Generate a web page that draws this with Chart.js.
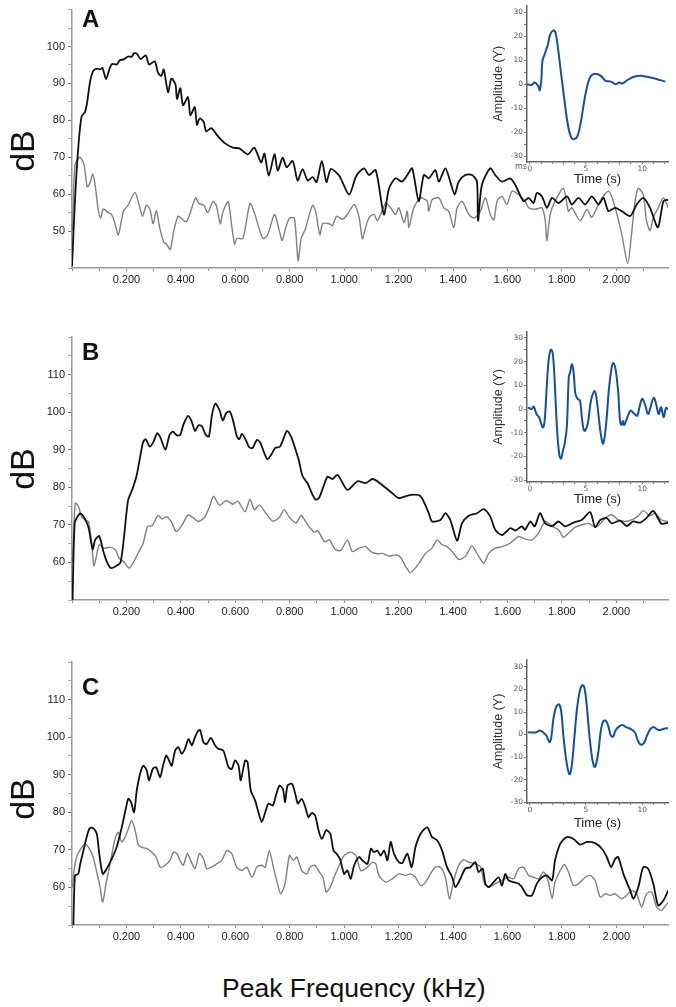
<!DOCTYPE html>
<html lang="en">
<head>
<meta charset="UTF-8">
<title>Peak frequency spectra</title>
<script src="https://cdn.jsdelivr.net/npm/chart.js"></script>
<style>
  body { margin: 0; background: #fff; }
  #wrap { position: relative; width: 676px; height: 1007px; overflow: hidden; font-family: 'Liberation Sans', Arial, sans-serif; }
  canvas { position: absolute; }
  .lbl { position: absolute; white-space: nowrap; color: #111; }
  .db { font-size: 34px; width: 60px; height: 40px; line-height: 40px; text-align: center; transform: rotate(-90deg); }
  .letter { font-size: 24px; line-height: 24px; font-weight: bold; }
</style>
</head>
<body>
<div id="wrap">
  <canvas id="mainA" width="676" height="300" style="left:0;top:0"></canvas>
  <canvas id="mainB" width="676" height="310" style="left:0;top:320px"></canvas>
  <canvas id="mainC" width="676" height="310" style="left:0;top:645px"></canvas>
  <canvas id="waveA" width="196" height="190" style="left:480px;top:0"></canvas>
  <canvas id="waveB" width="196" height="184" style="left:480px;top:326px"></canvas>
  <canvas id="waveC" width="196" height="177" style="left:480px;top:654px"></canvas>

  <div class="lbl db" style="left:-8px;top:131px">dB</div>
  <div class="lbl db" style="left:-8px;top:449px">dB</div>
  <div class="lbl db" style="left:-8px;top:779px">dB</div>
  <div class="lbl letter" style="left:82px;top:7px">A</div>
  <div class="lbl letter" style="left:82px;top:340px">B</div>
  <div class="lbl letter" style="left:82px;top:675px">C</div>
  <div class="lbl" style="left:515px;top:162px;font:8px 'DejaVu Sans';color:#555">ms</div>
  <div class="lbl" style="left:222px;top:975px;font-size:26.5px;line-height:26.5px">Peak Frequency (kHz)</div>
</div>
<script>
// [kHz, dB] pairs
const blackA = [[0,40.5],[0.011,58.4],[0.023,72.6],[0.035,81],[0.048,82.3],[0.056,85],[0.066,90.3],[0.078,93.4],[0.093,94],[0.103,93.8],[0.112,94.2],[0.125,91.2],[0.139,94.2],[0.148,95.3],[0.164,95.1],[0.176,96.3],[0.190,96.5],[0.206,97.3],[0.219,97.2],[0.228,98.2],[0.239,98],[0.252,96.6],[0.271,97.6],[0.283,95.1],[0.304,96],[0.316,92.9],[0.328,92],[0.337,93.8],[0.353,87.6],[0.365,91.3],[0.380,89.8],[0.386,85.8],[0.398,88.7],[0.408,84.1],[0.426,86.3],[0.435,81.4],[0.451,83.6],[0.459,78.8],[0.469,80.5],[0.484,79.6],[0.493,77],[0.512,77.9],[0.536,75.7],[0.560,73.9],[0.591,72.6],[0.615,72.4],[0.646,70.8],[0.670,72.6],[0.695,68.6],[0.707,71],[0.723,65],[0.744,70.8],[0.756,66.4],[0.774,69.9],[0.789,67.3],[0.811,69],[0.829,63.7],[0.847,66.8],[0.866,63.7],[0.884,64.6],[0.899,63.3],[0.918,69],[0.935,63.3],[0.951,66.8],[0.982,65],[1.018,59.9],[1.045,65],[1.073,67],[1.091,65.2],[1.116,66.5],[1.146,54.5],[1.165,61.6],[1.189,64.3],[1.213,63.4],[1.232,65.2],[1.250,67],[1.274,58.1],[1.293,65.2],[1.311,64.3],[1.335,66.5],[1.348,63.4],[1.372,67],[1.390,63.4],[1.406,59.9],[1.421,63.4],[1.445,65.2],[1.470,65.2],[1.488,63.4],[1.492,52.8],[1.506,62.5],[1.537,67],[1.555,65.2],[1.580,63.4],[1.610,64.3],[1.629,62.5],[1.659,58.1],[1.678,59],[1.696,57.6],[1.708,60.3],[1.727,59.4],[1.745,56.3],[1.764,59],[1.788,57.6],[1.819,59.4],[1.837,57.2],[1.861,59],[1.886,57.2],[1.910,59.4],[1.935,57.2],[1.953,59],[1.971,55.4],[1.996,56.3],[2.020,55.4],[2.051,54.1],[2.075,57.2],[2.099,59],[2.124,56.3],[2.153,51],[2.173,58.1],[2.190,58.5]];
const greyA = [[0.002,50],[0.011,68],[0.029,70],[0.044,68],[0.056,62],[0.066,63],[0.076,65.5],[0.084,63],[0.096,56],[0.105,53.5],[0.115,56],[0.133,55],[0.145,54.5],[0.158,52],[0.170,49],[0.182,53],[0.190,55.5],[0.206,57],[0.231,60.5],[0.247,57],[0.259,54],[0.273,57],[0.286,56],[0.298,52],[0.310,55.5],[0.322,51],[0.337,47],[0.347,46.5],[0.361,45],[0.374,50],[0.390,54],[0.408,53],[0.420,52.5],[0.430,54],[0.454,59],[0.466,57.5],[0.484,57],[0.499,55],[0.518,58],[0.530,57],[0.545,52],[0.554,55],[0.573,58],[0.579,56],[0.597,46.5],[0.606,48],[0.628,48],[0.654,57.5],[0.670,55],[0.701,48],[0.719,49],[0.744,54.5],[0.762,50],[0.772,47.5],[0.786,51],[0.799,53.5],[0.817,53.5],[0.831,42],[0.842,48],[0.857,50.5],[0.884,57],[0.896,55],[0.911,49],[0.921,52],[0.945,52],[0.957,51.5],[0.972,54],[0.994,53.2],[1.012,54.5],[1.037,57.2],[1.055,53.7],[1.067,47.9],[1.079,51],[1.092,53.7],[1.110,54.5],[1.122,52.8],[1.134,54.5],[1.153,57.6],[1.171,56.3],[1.189,54.5],[1.201,56.3],[1.220,52.3],[1.232,55.4],[1.238,51],[1.256,56.3],[1.281,59],[1.305,58.1],[1.311,55.4],[1.323,58.5],[1.348,59],[1.366,56.3],[1.384,55.4],[1.403,51],[1.415,56.3],[1.433,58.1],[1.458,54.5],[1.470,53.7],[1.482,53.7],[1.501,55.4],[1.519,59],[1.537,54.5],[1.550,53],[1.562,58.1],[1.580,59.4],[1.598,57.2],[1.617,60.8],[1.641,59.9],[1.665,58.1],[1.678,56.3],[1.702,55.9],[1.727,56.3],[1.739,52.8],[1.745,47.4],[1.757,54.5],[1.775,58.1],[1.806,61.6],[1.824,55.4],[1.837,56.3],[1.867,52.8],[1.892,55.9],[1.910,53.7],[1.940,58.1],[1.971,60.8],[1.989,58.1],[2.020,49.2],[2.042,41.2],[2.056,49.2],[2.069,58.1],[2.081,61.6],[2.099,59.9],[2.111,52.8],[2.124,50.1],[2.136,53.7],[2.154,56.3],[2.173,59],[2.191,56.3]];

const blackB = [[0.002,50],[0.010,70.5],[0.023,72.5],[0.032,73],[0.048,71.5],[0.061,69.2],[0.076,63.5],[0.085,66],[0.100,67],[0.115,63],[0.129,60],[0.143,58.5],[0.161,59],[0.178,60],[0.190,66],[0.206,76.5],[0.222,79.5],[0.237,83],[0.249,87.5],[0.261,92],[0.271,92.8],[0.286,90.8],[0.300,92.2],[0.313,94.4],[0.325,93.2],[0.343,90],[0.359,94],[0.371,94.8],[0.386,93.8],[0.398,94],[0.410,96.8],[0.427,99],[0.440,97.5],[0.452,95],[0.465,96.5],[0.477,96.3],[0.491,94],[0.503,93.5],[0.515,99.5],[0.527,102.3],[0.542,100.5],[0.554,97.8],[0.567,99.8],[0.579,100.2],[0.591,98],[0.606,93.5],[0.615,92.8],[0.624,94.2],[0.636,93],[0.652,90.6],[0.664,90.5],[0.679,92.6],[0.691,92],[0.707,89],[0.719,87.5],[0.733,88.8],[0.747,90.5],[0.764,90.8],[0.780,93.5],[0.790,95],[0.805,93.5],[0.818,90.8],[0.833,87.3],[0.847,83],[0.866,81],[0.884,78],[0.896,76.7],[0.908,77.2],[0.923,80],[0.939,82.8],[0.957,82.2],[0.976,83.3],[1.012,79.3],[1.049,81.6],[1.079,81.1],[1.104,82.2],[1.128,81.3],[1.177,78.4],[1.201,77.1],[1.244,78],[1.281,77.6],[1.311,73.1],[1.323,70.9],[1.354,71.3],[1.372,73.1],[1.390,71.3],[1.415,65.8],[1.433,70.4],[1.458,72.4],[1.488,73.1],[1.513,74.2],[1.537,72.2],[1.555,68.7],[1.580,67.3],[1.610,69.1],[1.629,68.5],[1.653,69.6],[1.665,68.7],[1.684,70.9],[1.700,69.6],[1.720,73.1],[1.739,70.4],[1.764,69.7],[1.788,70.9],[1.812,69.6],[1.843,70.6],[1.873,71.3],[1.904,73.4],[1.922,69.4],[1.941,71.3],[1.965,71.8],[1.983,70.4],[2.014,71.1],[2.038,69.7],[2.062,70.9],[2.087,70.6],[2.111,71.8],[2.136,73.7],[2.166,70.3],[2.191,70.6]];
const greyB = [[0.002,60],[0.012,75.8],[0.024,74.9],[0.035,72.2],[0.051,71.2],[0.061,70.8],[0.073,64.5],[0.081,59],[0.100,64.7],[0.117,63.8],[0.139,64],[0.158,63.5],[0.174,61],[0.190,60.2],[0.210,58.5],[0.225,60],[0.243,62.5],[0.261,65],[0.278,69.6],[0.295,69.8],[0.316,72.5],[0.331,71.6],[0.347,72.2],[0.365,70.8],[0.383,68.2],[0.405,70],[0.426,72.6],[0.447,71.8],[0.465,70.9],[0.487,72],[0.506,75],[0.520,77.6],[0.542,75.2],[0.567,76.5],[0.591,75.5],[0.609,76.3],[0.636,73.5],[0.654,76.8],[0.670,74],[0.689,75.3],[0.713,73],[0.738,71],[0.762,72],[0.780,74],[0.799,72],[0.823,70.5],[0.842,72.5],[0.866,70],[0.891,68],[0.903,68.5],[0.928,65.5],[0.946,66],[0.966,63.5],[0.988,63.2],[1.012,66],[1.030,62.9],[1.055,63.8],[1.079,64.2],[1.098,62.9],[1.122,62.3],[1.140,62.4],[1.165,61.7],[1.189,62],[1.207,61.4],[1.226,58.9],[1.244,57.3],[1.275,59.8],[1.299,62.4],[1.323,63.8],[1.342,66],[1.360,64.7],[1.378,64.2],[1.403,62.4],[1.421,60.8],[1.445,61.6],[1.470,64.4],[1.488,62.4],[1.513,59.8],[1.531,62.4],[1.555,63.8],[1.580,64.2],[1.610,65.1],[1.641,66.9],[1.665,66.2],[1.690,66],[1.714,67.8],[1.739,70.9],[1.764,69.6],[1.788,68.7],[1.806,66.7],[1.831,68.2],[1.849,69.4],[1.873,70],[1.898,70.4],[1.922,69.4],[1.941,70.3],[1.959,71.8],[1.983,72.7],[2.007,71.3],[2.032,70.9],[2.056,71.3],[2.081,72.4],[2.099,73.8],[2.124,72.4],[2.142,73.1],[2.166,71.3],[2.191,70.9]];

const blackC = [[0.005,50],[0.011,63.2],[0.023,63.6],[0.029,65.8],[0.042,69.8],[0.054,73.4],[0.064,75.6],[0.076,75.9],[0.091,74.3],[0.100,69],[0.113,63.6],[0.127,64.9],[0.146,67.6],[0.164,70.7],[0.183,76],[0.199,81.4],[0.207,83.6],[0.217,82.7],[0.228,80],[0.238,85.8],[0.250,90.2],[0.262,92.4],[0.275,91.1],[0.283,88.5],[0.297,91.6],[0.309,92],[0.324,89.3],[0.333,92],[0.346,95.1],[0.354,94.2],[0.366,92.4],[0.379,96.4],[0.391,97.3],[0.403,95.6],[0.415,96.9],[0.428,99.5],[0.440,97.8],[0.452,100],[0.464,101.7],[0.471,101.9],[0.483,98.6],[0.495,98.2],[0.510,99.8],[0.526,97.8],[0.538,96.9],[0.556,96.4],[0.575,92],[0.587,91.5],[0.599,93.8],[0.612,92.4],[0.620,88.5],[0.636,93.8],[0.645,93.4],[0.657,85.8],[0.673,83.1],[0.685,80],[0.697,77.4],[0.710,80],[0.722,82.3],[0.738,81.8],[0.746,83.6],[0.762,87.1],[0.775,86.2],[0.783,82.7],[0.792,87.1],[0.808,87.6],[0.820,85],[0.830,82.3],[0.844,83.6],[0.857,81.4],[0.869,78.7],[0.881,79.8],[0.893,79.2],[0.906,75.2],[0.918,72.9],[0.934,75.2],[0.949,74.3],[0.961,69.8],[0.973,68.9],[0.985,67.5],[1.000,63.6],[1.012,64.5],[1.024,62.3],[1.037,65.9],[1.055,68.1],[1.067,67.2],[1.086,66.3],[1.098,70.3],[1.110,69.4],[1.122,69.8],[1.134,68.5],[1.147,69.8],[1.159,67.2],[1.171,72.1],[1.183,69],[1.201,66.7],[1.214,66.5],[1.232,69],[1.248,65.4],[1.262,70.7],[1.281,74.3],[1.305,76],[1.323,73.4],[1.342,72.5],[1.360,69.8],[1.378,65.4],[1.397,62.7],[1.409,60.1],[1.427,62.3],[1.445,65],[1.464,65.4],[1.482,66.7],[1.494,64.1],[1.509,65],[1.519,61],[1.531,60.1],[1.549,61.4],[1.568,62.7],[1.580,60.5],[1.592,63.6],[1.604,61.9],[1.623,61.4],[1.641,61],[1.653,60.1],[1.672,57.9],[1.690,57.9],[1.708,61],[1.727,62.7],[1.745,63.2],[1.764,61.9],[1.775,67.2],[1.794,71.6],[1.818,73.4],[1.843,72.9],[1.867,71.4],[1.892,72.1],[1.922,71.8],[1.947,70.3],[1.965,68.1],[1.981,65.4],[1.996,67.6],[2.007,68.1],[2.026,63.6],[2.051,59.2],[2.063,57],[2.081,60.1],[2.099,65.4],[2.117,65],[2.136,61],[2.154,55.2],[2.173,56.5],[2.191,59.2]];
const greyC = [[0.002,60],[0.007,64.3],[0.017,68.1],[0.036,70.7],[0.048,71.6],[0.060,70.7],[0.076,68.5],[0.091,64.1],[0.103,60.1],[0.113,56.1],[0.125,61],[0.140,66.3],[0.158,72.9],[0.170,74.7],[0.183,72.1],[0.195,73.4],[0.207,75.6],[0.219,77.8],[0.232,75.2],[0.244,71.2],[0.256,70.7],[0.275,70.3],[0.293,69.4],[0.309,68.1],[0.324,65.4],[0.342,65.9],[0.360,67.2],[0.373,69.4],[0.385,69],[0.397,67.2],[0.409,65.9],[0.424,69],[0.436,67.2],[0.452,65],[0.468,69],[0.483,67.6],[0.495,65],[0.513,65.4],[0.532,66.3],[0.550,67.2],[0.569,69.8],[0.587,69],[0.605,65.4],[0.624,64.5],[0.642,65.4],[0.661,62.7],[0.679,65.4],[0.697,65.9],[0.710,65.4],[0.725,69.8],[0.740,65.4],[0.755,61],[0.767,58.3],[0.783,61],[0.799,68.5],[0.814,67.2],[0.826,68.1],[0.844,64.5],[0.863,63.6],[0.875,65.4],[0.893,65.9],[0.909,64.1],[0.922,62.7],[0.934,58.8],[0.949,60.1],[0.963,62.7],[0.982,65.9],[1.000,68.5],[1.024,69.4],[1.043,68.5],[1.061,64.5],[1.079,65],[1.104,66.7],[1.116,66.3],[1.128,63.2],[1.153,61.4],[1.177,62.3],[1.201,63.6],[1.226,63.2],[1.244,63.6],[1.262,62.7],[1.281,60.5],[1.299,61.4],[1.317,63.6],[1.335,65.4],[1.354,65.4],[1.372,62.7],[1.387,57],[1.403,61.9],[1.421,65.9],[1.439,67.4],[1.458,66.7],[1.482,66.3],[1.501,65.4],[1.516,61],[1.531,60.1],[1.555,61],[1.580,61.9],[1.604,62.7],[1.623,62.3],[1.641,65],[1.659,65.4],[1.678,63.2],[1.696,62.7],[1.714,62.3],[1.733,64.1],[1.751,61.4],[1.764,57],[1.775,61.4],[1.794,64.5],[1.810,66.1],[1.824,64.1],[1.843,60.5],[1.861,61],[1.886,62.7],[1.904,63.2],[1.922,61.9],[1.941,57.4],[1.959,58.3],[1.977,57.9],[1.996,58.3],[2.020,57],[2.038,57.9],[2.056,59.2],[2.075,58.3],[2.093,54.8],[2.111,58.3],[2.130,58.8],[2.148,54.8],[2.166,53.9],[2.191,56.1]];

// [time, amplitude] pairs for the insets
const waveA = [[-0.24,0],[0.15,-0.3],[0.44,0.7],[0.74,-0.7],[0.88,-2.5],[1.03,2.1],[1.12,9.7],[1.32,12.5],[1.62,16.7],[1.82,20.8],[2.12,22.5],[2.29,21.5],[2.5,15.3],[2.79,4.2],[3.09,-6.9],[3.38,-16.7],[3.68,-22.2],[3.97,-22.9],[4.26,-21.5],[4.56,-15.3],[4.85,-6.9],[5.15,0],[5.44,3.5],[5.85,4.4],[6.32,3.5],[6.76,1.4],[7.21,1.1],[7.65,0],[7.94,0.7],[8.24,0.3],[8.68,1.7],[9.26,3.1],[9.85,3.5],[10.44,3.1],[11.03,2.5],[11.62,1.7],[12.06,1.1]];
const waveB = [[-0.15,0.7],[0.15,0],[0.35,1],[0.59,-2.1],[0.82,-3.5],[1.03,-6.4],[1.18,-7.8],[1.32,-5],[1.47,6.4],[1.62,17.7],[1.76,23.4],[1.91,25.1],[2.06,22.7],[2.21,12.1],[2.35,-2.1],[2.5,-13.5],[2.65,-19.9],[2.79,-20.9],[2.94,-17.7],[3.09,-14.9],[3.29,-7.8],[3.47,13.5],[3.59,15.5],[3.76,18.9],[3.91,14.9],[4.06,6.4],[4.26,4.3],[4.47,3.5],[4.65,-4.3],[4.85,-9.2],[5.15,-6.4],[5.44,3.5],[5.74,7.5],[5.88,6.4],[6.12,-2.8],[6.32,-10.6],[6.53,-14.6],[6.76,-7.8],[7.06,9.2],[7.29,17.7],[7.44,19.4],[7.65,16.3],[7.88,6.4],[8.03,-5],[8.18,-6.7],[8.29,-5],[8.41,-6.7],[8.68,-3.5],[8.97,-0.7],[9.26,-1.8],[9.56,-2.8],[9.76,0.7],[10,4.3],[10.24,2.1],[10.53,-2.1],[10.74,0.7],[11.03,4.7],[11.24,2.1],[11.47,-2.1],[11.68,0.7],[11.91,-3.5],[12.12,0.4],[12.3,0]];
const waveC = [[-0.15,1],[0.59,1],[0.88,1.8],[1.18,1],[1.47,-0.4],[1.76,-3.4],[1.91,-1.2],[2.12,7.6],[2.35,12.3],[2.59,13.4],[2.79,10.5],[3,-1.2],[3.24,-11.4],[3.47,-17.2],[3.59,-17.5],[3.76,-12.8],[3.97,-1.2],[4.18,10.5],[4.41,18.5],[4.65,21.9],[4.85,21],[5.06,13.4],[5.29,0.3],[5.53,-9.9],[5.74,-14.3],[5.88,-13.6],[6.12,-7],[6.32,1.8],[6.53,5.8],[6.76,6.1],[7,3.5],[7.21,-0.4],[7.41,-0.9],[7.65,2],[7.94,3.5],[8.24,4.2],[8.59,3.2],[8.97,2.5],[9.35,1],[9.56,-1.9],[9.85,-4.4],[10.15,-3.8],[10.44,-0.4],[10.74,2.5],[11.03,3.2],[11.47,2],[11.91,2.5],[12.29,2.9]];

// axis ticks (labels only on some of them)
const freqTicks = [0, 0.1, 0.2, 0.3, 0.4, 0.5, 0.6, 0.7, 0.8, 0.9, 1.0, 1.1, 1.2, 1.3, 1.4, 1.5, 1.6, 1.7, 1.8, 1.9, 2.0, 2.1];
const freqLabels = [0.2, 0.4, 0.6, 0.8, 1.0, 1.2, 1.4, 1.6, 1.8, 2.0];
const dbTicksA = [40, 45, 50, 55, 60, 65, 70, 75, 80, 85, 90, 95, 100, 105, 110];
const dbTicksBC = [50, 55, 60, 65, 70, 75, 80, 85, 90, 95, 100, 105, 110, 115, 120];
const dbLabelsA = [50, 60, 70, 80, 90, 100];
const dbLabelsBC = [60, 70, 80, 90, 100, 110];
const timeTicks = [0, 1, 2, 3, 4, 5, 6, 7, 8, 9, 10, 11, 12];
const timeLabels = [0, 5, 10];
const ampTicks = [-30, -25, -20, -15, -10, -5, 0, 5, 10, 15, 20, 25, 30];
const ampLabels = [-30, -20, -10, 0, 10, 20, 30];

const freqMax = 2.19;

Chart.defaults.font.family = "'Liberation Sans', Arial, sans-serif";
Chart.defaults.animation = false;

const toXY = arr => arr.map(p => ({ x: p[0], y: p[1] }));
const setTicks = list => s => { s.ticks = list.map(v => ({ value: v })); };
const has = (list, v) => list.some(t => Math.abs(t - v) < 1e-6);
const axisGrey = '#9a9a9a';

function mainChart(id, black, grey, yMin, yMax, yTicks, yLabels, padTop, xHeight) {
    return new Chart(document.getElementById(id), {
        type: 'line',
        data: {
            datasets: [
                { data: toXY(black), borderColor: '#111', borderWidth: 1.8 },
                { data: toXY(grey), borderColor: '#808080', borderWidth: 1.4 }
            ]
        },
        options: {
            responsive: false,
            layout: { padding: { top: padTop, right: 8, left: 0, bottom: 0 } },
            elements: { point: { radius: 0 }, line: { tension: 0.25 } },
            plugins: { legend: { display: false }, tooltip: { enabled: false } },
            scales: {
                x: {
                    type: 'linear', min: 0, max: freqMax,
                    border: { color: axisGrey, width: 1.5 },
                    grid: { drawOnChartArea: false, tickLength: 3, tickColor: '#888' },
                    ticks: {
                        autoSkip: false, maxRotation: 0, padding: 2,
                        color: '#222', font: { size: 11 },
                        callback: v => has(freqLabels, v) ? v.toFixed(3) : ''
                    },
                    afterBuildTicks: setTicks(freqTicks),
                    afterFit: s => { s.height = xHeight; }
                },
                y: {
                    min: yMin, max: yMax,
                    border: { color: axisGrey, width: 1.5 },
                    grid: {
                        drawOnChartArea: false, tickLength: 4,
                        tickColor: c => has(yLabels, c.tick.value) ? '#777' : '#aaa'
                    },
                    ticks: {
                        autoSkip: false, padding: 3,
                        color: '#222', font: { size: 11 },
                        callback: v => has(yLabels, v) ? v : ''
                    },
                    afterBuildTicks: setTicks(yTicks),
                    afterFit: s => { s.width = 72; }
                }
            }
        }
    });
}

function waveChart(id, wave, yMin, yMax, padTop, titlePad) {
    return new Chart(document.getElementById(id), {
        type: 'line',
        data: {
            datasets: [{ data: toXY(wave), borderColor: '#1550a0', borderWidth: 2 }]
        },
        options: {
            responsive: false,
            layout: { padding: { top: padTop, right: 8, left: 0, bottom: 0 } },
            elements: { point: { radius: 0 }, line: { tension: 0.4 } },
            plugins: { legend: { display: false }, tooltip: { enabled: false } },
            scales: {
                x: {
                    type: 'linear', min: -0.25, max: 12.3,
                    border: { color: '#666', width: 1.5 },
                    grid: { drawOnChartArea: false, tickLength: 2, tickColor: '#777' },
                    ticks: {
                        autoSkip: false, maxRotation: 0, padding: 1,
                        color: '#555', font: { size: 7.5, family: 'DejaVu Sans' },
                        callback: v => has(timeLabels, v) ? String(v) : ''
                    },
                    afterBuildTicks: setTicks(timeTicks),
                    title: { display: true, text: 'Time (s)', color: '#222', font: { size: 13 }, padding: { top: 0, bottom: titlePad } },
                    afterFit: s => { s.height = 28; }
                },
                y: {
                    min: yMin, max: yMax,
                    border: { color: '#666', width: 1.5 },
                    grid: { drawOnChartArea: false, tickLength: 3, tickColor: '#777' },
                    ticks: {
                        autoSkip: false, padding: 1,
                        color: '#555', font: { size: 7.5, family: 'DejaVu Sans' },
                        callback: v => has(ampLabels, v) ? v : ''
                    },
                    afterBuildTicks: setTicks(ampTicks),
                    title: { display: true, text: 'Amplitude (Y)', color: '#333', font: { size: 12.5 }, padding: { top: 11, bottom: 0 } },
                    afterFit: s => { s.width = 47; }
                }
            }
        }
    });
}

mainChart('mainA', blackA, greyA, 40, 110, dbTicksA, dbLabelsA, 5, 32);
mainChart('mainB', blackB, greyB, 50, 120, dbTicksBC, dbLabelsBC, 17, 30);
mainChart('mainC', blackC, greyC, 50, 120, dbTicksBC, dbLabelsBC, 17, 30);

waveChart('waveA', waveA, -32.5, 32.9, 5, 3);
waveChart('waveB', waveB, -30.8, 32.5, 6, 3);
waveChart('waveC', waveC, -30.4, 33.1, 6, 0);
</script>
</body>
</html>
